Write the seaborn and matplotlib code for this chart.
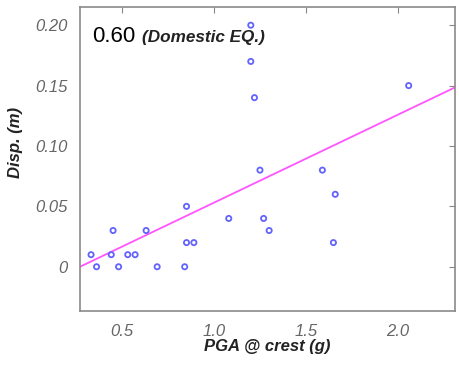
import matplotlib
matplotlib.use("Agg")
import matplotlib.pyplot as plt
import seaborn as sns
import pandas as pd
import numpy as np

# PGA at crest (g) vs displacement (m), domestic earthquakes
pga = [0.33, 0.36, 0.44, 0.45, 0.48, 0.53, 0.57, 0.63, 0.69, 0.84,
       0.85, 0.85, 0.89, 1.08, 1.20, 1.20, 1.22, 1.25, 1.27, 1.30,
       1.59, 1.65, 1.66, 2.06]
disp = [0.01, 0.00, 0.01, 0.03, 0.00, 0.01, 0.01, 0.03, 0.00, 0.00,
        0.05, 0.02, 0.02, 0.04, 0.20, 0.17, 0.14, 0.08, 0.04, 0.03,
        0.08, 0.02, 0.06, 0.15]

# fitted trend line
fit_slope = 0.0727
fit_intercept = -0.0196
corr_label = "0.60"
case_label = "(Domestic EQ.)"

x_ticks = [0.5, 1.0, 1.5, 2.0]
x_tick_labels = ["0.5", "1.0", "1.5", "2.0"]
y_ticks = [0.0, 0.05, 0.10, 0.15, 0.20]
y_tick_labels = ["0", "0.05", "0.10", "0.15", "0.20"]
x_lim = (0.27, 2.312)
y_lim = (-0.0367, 0.215)

df = pd.DataFrame({"pga": pga, "disp": disp})

sns.set_style("white")
plt.rcParams['font.family'] = ['Liberation Sans', 'DejaVu Sans']

fig = plt.figure(figsize=(4.6, 3.73), dpi=100)
ax = fig.add_axes([0.174, 0.166, 0.815, 0.815])

fit_x = np.array(x_lim)
fit_y = fit_slope * fit_x + fit_intercept
ax.plot(fit_x, fit_y, color="#ff55ff", lw=1.3, zorder=2)

sns.scatterplot(data=df, x="pga", y="disp", ax=ax, marker="o", s=14,
                facecolor="none", edgecolor="#6262ff", linewidth=1.3, zorder=3)

ax.set_xlim(*x_lim)
ax.set_ylim(*y_lim)
ax.set_xticks(x_ticks)
ax.set_xticklabels(x_tick_labels)
ax.set_yticks(y_ticks)
ax.set_yticklabels(y_tick_labels)

ax.tick_params(direction="in", length=4, width=0.8, color="#888888",
               top=True, right=True, labelsize=12, labelcolor="#666666", pad=9)
for lab in ax.get_xticklabels() + ax.get_yticklabels():
    lab.set_fontstyle("italic")
for sp in ax.spines.values():
    sp.set_color("#8a8a8a")
    sp.set_linewidth(1.2)

ax.set_xlabel("PGA @ crest (g)", fontsize=12, fontweight="bold",
              fontstyle="italic", color="#222222", labelpad=0)
ax.set_ylabel("Disp. (m)", fontsize=12, fontweight="bold",
              fontstyle="italic", color="#222222")
ax.yaxis.set_label_coords(-0.153, 0.553)

ax.text(0.032, 0.885, corr_label, transform=ax.transAxes, fontsize=16,
        color="black", va="baseline", ha="left")
ax.text(0.165, 0.885, case_label, transform=ax.transAxes, fontsize=12.3,
        fontweight="bold", fontstyle="italic", color="#222222",
        va="baseline", ha="left")

fig.savefig("out.png", dpi=100)
